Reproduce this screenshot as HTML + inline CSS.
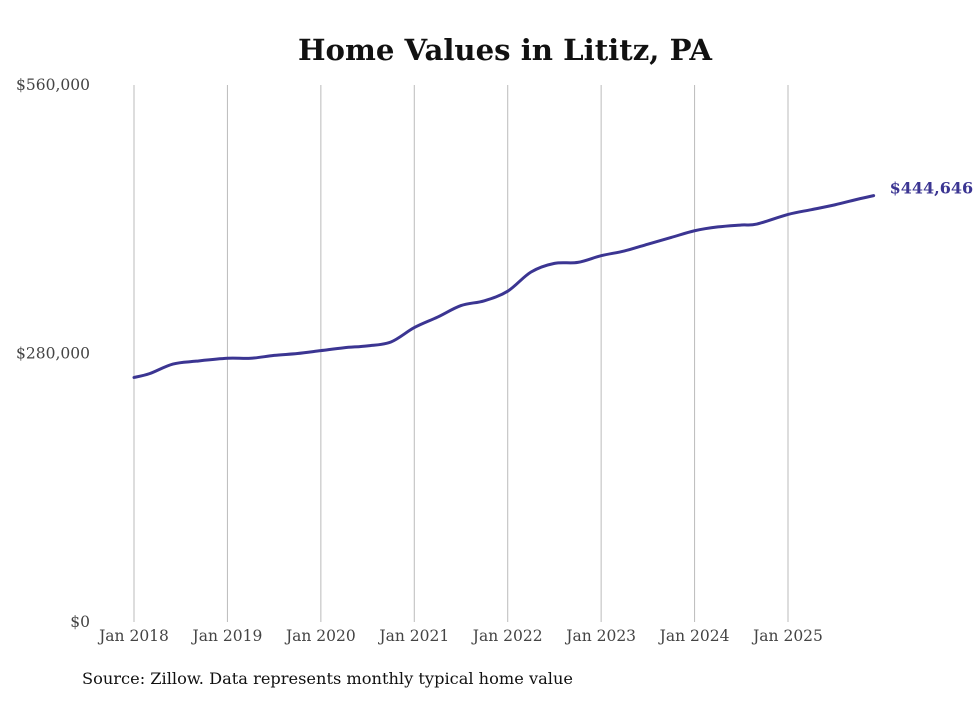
<!DOCTYPE html>
<html><head><meta charset="utf-8"><style>
body{margin:0;background:#fff;}
svg text{font-family:"DejaVu Serif","Liberation Serif",serif;}
</style></head><body>
<svg id="chart" width="980" height="699" xmlns="http://www.w3.org/2000/svg">
<text x="505" y="60" text-anchor="middle" font-size="29" font-weight="bold" fill="#111" textLength="414" lengthAdjust="spacingAndGlyphs">Home Values in Lititz, PA</text>
<g id="grid"></g>
<g id="yaxis"></g>
<g id="xaxis"></g>
<path id="line" fill="none" stroke="#3b3592" stroke-width="3" stroke-linejoin="round" stroke-linecap="round"/>
<text id="endlabel" font-size="16" font-weight="bold" fill="#3b3592"></text>
<text x="82" y="684" font-size="16" fill="#111" textLength="491" lengthAdjust="spacingAndGlyphs">Source: Zillow. Data represents monthly typical home value</text>
</svg>
<script>
// months since Jan 2018
const months=[0,2,5,8,12,15,18,21,24,27,30,33,36,39,42,45,48,51,54,57,60,63,66,69,72,75,78,80,84,87,90,93,95];
const values=[255000,259000,269000,272000,275000,275000,278000,280000,283000,286000,288000,292000,307000,318000,330000,335000,345000,365000,374000,375000,382000,387000,394000,401000,408000,412000,414000,415000,425000,430000,435000,441000,444646];
const yTicks=[0,280000,560000];
const yTickLabels=["$0","$280,000","$560,000"];
const xTickYears=[2018,2019,2020,2021,2022,2023,2024,2025];
const ns="http://www.w3.org/2000/svg";
const x=m=>134+m*(654/84);
const y=v=>622-v*(537/560000);
const grid=document.getElementById('grid'),ya=document.getElementById('yaxis'),xa=document.getElementById('xaxis');
xTickYears.forEach((yr,i)=>{
 const px=x((yr-2018)*12);
 const l=document.createElementNS(ns,'line');
 
 
 l.setAttribute('x1',px);l.setAttribute('x2',px);l.setAttribute('y1',85);l.setAttribute('y2',622);
 l.setAttribute('stroke','#bbb');l.setAttribute('stroke-width','1');grid.appendChild(l);
 const t=document.createElementNS(ns,'text');
 
 
 t.setAttribute('x',px);t.setAttribute('y',641);t.setAttribute('text-anchor','middle');
 t.setAttribute('font-size','15.5');t.setAttribute('fill','#444');t.textContent='Jan '+yr;xa.appendChild(t);
});
yTicks.forEach((v,i)=>{
 const t=document.createElementNS(ns,'text');
 
 
 t.setAttribute('x',90);t.setAttribute('y',y(v)+5);t.setAttribute('text-anchor','end');
 t.setAttribute('font-size','15.5');t.setAttribute('fill','#444');t.textContent=yTickLabels[i];ya.appendChild(t);
});
const pts=months.map((m,i)=>[x(m),y(values[i])]);
let d='M'+pts[0][0]+','+pts[0][1];
for(let i=0;i<pts.length-1;i++){
 const p0=pts[i-1]||pts[i],p1=pts[i],p2=pts[i+1],p3=pts[i+2]||p2;
 d+=' C'+(p1[0]+(p2[0]-p0[0])/6)+','+(p1[1]+(p2[1]-p0[1])/6)+' '+(p2[0]-(p3[0]-p1[0])/6)+','+(p2[1]-(p3[1]-p1[1])/6)+' '+p2[0]+','+p2[1];
}
document.getElementById('line').setAttribute('d',d);
const last=pts[pts.length-1],el=document.getElementById('endlabel');
el.setAttribute('x',last[0]+16);el.setAttribute('y',last[1]-2);
el.textContent='$'+values[values.length-1].toLocaleString('en-US');
</script>
</body></html>
